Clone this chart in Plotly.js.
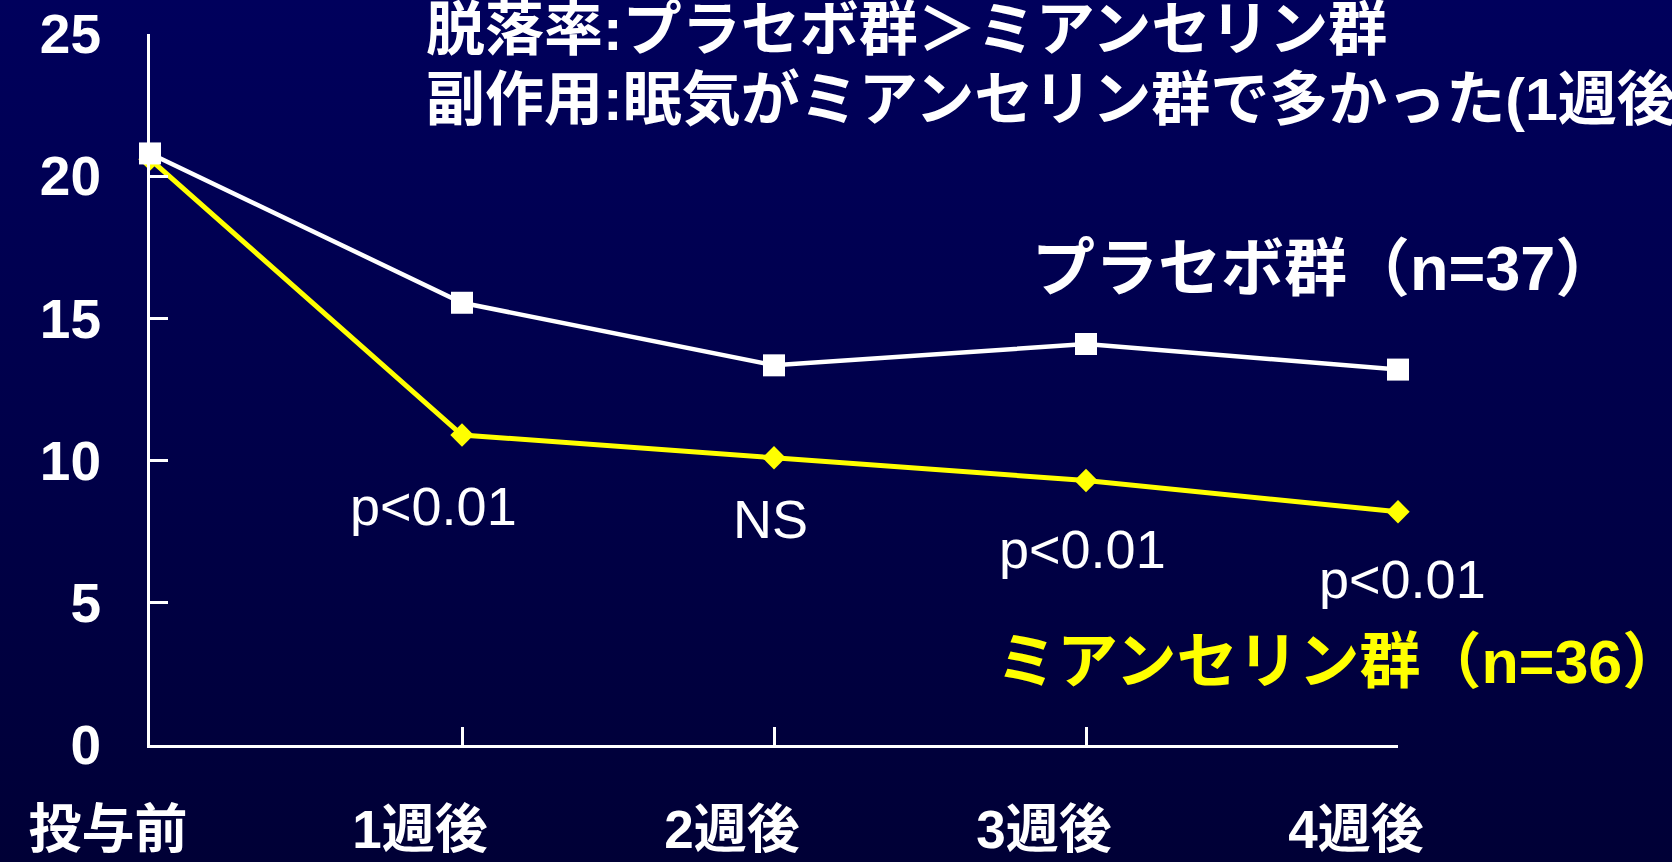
<!DOCTYPE html>
<html>
<head>
<meta charset="utf-8">
<script src="https://cdn.plot.ly/plotly-3.0.1.min.js"></script>
<style>
  html, body { margin: 0; padding: 0; width: 1672px; height: 862px; overflow: hidden;
    background: linear-gradient(to bottom, #00005c 0%, #00004a 50%, #000036 100%); }
  #chart { width: 1672px; height: 862px; }
</style>
</head>
<body>
<div id="chart"></div>
<script>
// ---- data ----
const timepoints = ['投与前', '1週後', '2週後', '3週後', '4週後'];
const placeboValues = [20.8, 15.55, 13.35, 14.1, 13.2];
const mianserinValues = [20.6, 10.9, 10.1, 9.3, 8.2];
const placeboName = 'プラセボ群（n=37）';
const mianserinName = 'ミアンセリン群（n=36）';
const pLabels = ['p<0.01', 'NS', 'p<0.01', 'p<0.01'];
const pLabelY = [8.4, 7.95, 6.9, 5.84];
const yTicks = [0, 5, 10, 15, 20, 25];
const noteLines = ['脱落率:プラセボ群＞ミアンセリン群', '副作用:眠気がミアンセリン群で多かった(1週後)'];

const xIdx = timepoints.map((_, i) => i);
const FONT = 'Liberation Sans, Noto Sans CJK JP, sans-serif';

// plot area geometry (pixels)
const M = { l: 150, r: 274, t: 34, b: 117 };
const W = 1672, H = 862;
const PW = W - M.l - M.r, PH = H - M.t - M.b;
const px = v => (v - M.l) / PW;
const py = v => (H - M.b - v) / PH;

const traces = [
  {
    x: xIdx, y: mianserinValues, name: mianserinName, type: 'scatter', mode: 'lines+markers',
    line: { color: '#ffff00', width: 5 },
    marker: { symbol: 'diamond', size: 18, color: '#ffff00' },
    cliponaxis: false, hoverinfo: 'skip'
  },
  {
    x: xIdx, y: placeboValues, name: placeboName, type: 'scatter', mode: 'lines+markers',
    line: { color: '#ffffff', width: 4.5 },
    marker: { symbol: 'square', size: 22, color: '#ffffff' },
    cliponaxis: false, hoverinfo: 'skip'
  }
];

const pShift = [-29, -4, -4, 4];
const annotations = [];
pLabels.forEach((t, i) => {
  annotations.push({
    x: i + 1, y: pLabelY[i], xref: 'x', yref: 'y', text: t, showarrow: false,
    xshift: pShift[i], font: { family: FONT, size: 54, color: '#ffffff' }
  });
});
annotations.push({
  x: px(1030), y: py(268), xref: 'paper', yref: 'paper', yanchor: 'middle', xanchor: 'left',
  text: placeboName, showarrow: false,
  font: { family: FONT, size: 63, color: '#ffffff', weight: 'bold' }
});
annotations.push({
  x: px(994), y: py(662), xref: 'paper', yref: 'paper', yanchor: 'middle', xanchor: 'left',
  text: mianserinName, showarrow: false,
  font: { family: FONT, size: 61, color: '#ffff00', weight: 'bold' }
});
[30, 100].forEach((yy, i) => {
  annotations.push({
    x: px(424), y: py(yy), xref: 'paper', yref: 'paper', text: noteLines[i], showarrow: false,
    xanchor: 'left', yanchor: 'middle',
    font: { family: FONT, size: 59, color: '#ffffff', weight: 'bold' }
  });
});

const layout = {
  width: W, height: H,
  margin: M,
  paper_bgcolor: 'rgba(0,0,0,0)', plot_bgcolor: 'rgba(0,0,0,0)',
  showlegend: false,
  xaxis: {
    range: [0, 4], tickmode: 'array', tickvals: xIdx, ticktext: timepoints,
    showline: true, linecolor: '#ffffff', linewidth: 3,
    ticks: 'inside', ticklen: 18, tickwidth: 3, tickcolor: '#ffffff',
    showgrid: false, zeroline: false, ticklabelshift: -42, ticklabelstandoff: 36,
    tickfont: { family: FONT, size: 53, color: '#ffffff', weight: 'bold' }
  },
  yaxis: {
    range: [0, 25], tickmode: 'array', tickvals: yTicks,
    showline: true, linecolor: '#ffffff', linewidth: 3,
    ticks: 'inside', ticklen: 18, tickwidth: 3, tickcolor: '#ffffff',
    showgrid: false, zeroline: false, ticklabelstandoff: 35,
    tickfont: { family: FONT, size: 55, color: '#ffffff', weight: 'bold' }
  },
  annotations: annotations
};

Plotly.newPlot('chart', traces, layout, { staticPlot: true, displayModeBar: false });
</script>
</body>
</html>
